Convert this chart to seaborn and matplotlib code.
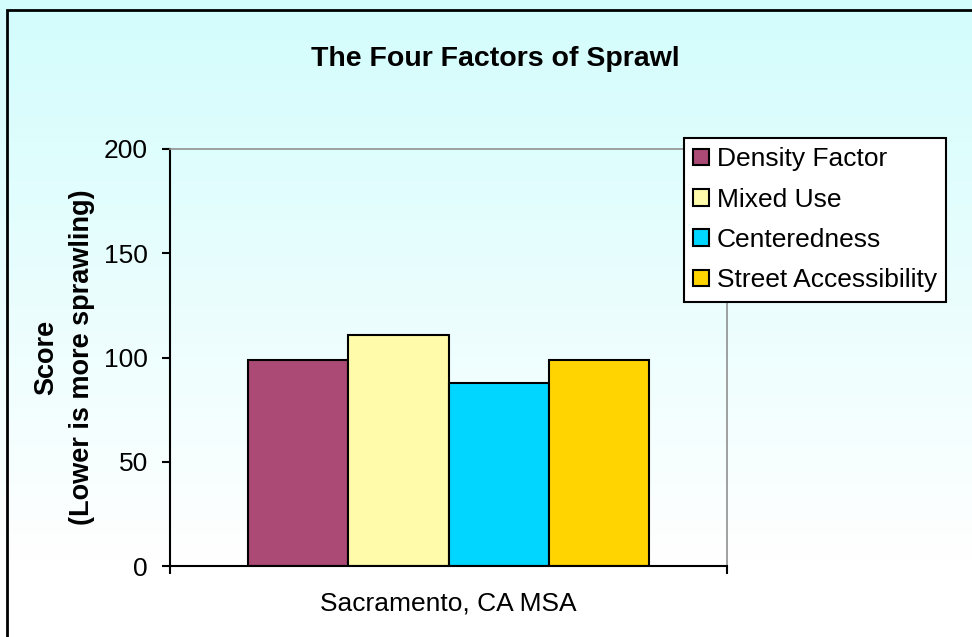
import numpy as np
import pandas as pd
import matplotlib
matplotlib.use("Agg")
import matplotlib.pyplot as plt
import seaborn as sns
from matplotlib.patches import Rectangle

# Chart data
location = "Sacramento, CA MSA"
factors = ["Density Factor", "Mixed Use", "Centeredness", "Street Accessibility"]
scores = [99, 111, 88, 99]
colors = ["#aa4a75", "#fffbaa", "#00d6ff", "#ffd400"]
yticks = [0, 50, 100, 150, 200]

df = pd.DataFrame({"location": [location] * len(factors), "factor": factors, "score": scores})

sns.set_style("white")
plt.rcParams["font.family"] = ["Liberation Sans", "DejaVu Sans"]
plt.rcParams["text.color"] = "black"
plt.rcParams["xtick.color"] = "black"
plt.rcParams["ytick.color"] = "black"

fig = plt.figure(figsize=(9.72, 6.37), dpi=100)

# background gradient (light cyan at top fading to white)
bg = fig.add_axes([0, 0, 1, 1], zorder=0)
rows = np.linspace(0, 1, 300)[:, None]
top = np.array([0.83, 0.99, 0.99])
frac = np.clip((rows * 637 - 10) / 550, 0, 1)
img = top + (1 - top) * frac[..., None]
img = np.repeat(img, 2, axis=1)
bg.imshow(img, aspect="auto", extent=[0, 1, 1, 0])
bg.set_xlim(0, 1)
bg.set_ylim(1, 0)
bg.axis("off")
# outer frame (only left and top edges are inside the image)
bg.add_patch(Rectangle((7 / 972, -0.5), 1.2, 1.5 - 10 / 637, fill=False, edgecolor="black",
                       linewidth=2, transform=bg.transAxes, clip_on=False))

ax = fig.add_axes([170 / 972, 71 / 637, 557 / 972, 417 / 637], zorder=1)
ax.set_facecolor("none")

sns.barplot(data=df, x="location", y="score", hue="factor", palette=colors, saturation=1,
            edgecolor="black", linewidth=1.5, width=0.72, ax=ax)

ax.set_ylim(0, 200)
ax.set_yticks(yticks)
ax.set_xlim(-0.5, 0.5)
ax.set_xlabel("")
ax.set_ylabel("")

for side in ["left", "bottom"]:
    ax.spines[side].set_visible(True)
    ax.spines[side].set_color("black")
    ax.spines[side].set_linewidth(1.5)
for side in ["top", "right"]:
    ax.spines[side].set_visible(True)
    ax.spines[side].set_color("#909090")
    ax.spines[side].set_linewidth(1.2)

ax.tick_params(axis="y", direction="out", length=6, width=1.5, color="black",
               left=True, labelsize=19, pad=10)
ax.tick_params(axis="x", which="major", length=0, labelsize=19, pad=18)
ax.set_xticks([-0.5, 0.5], minor=True)
ax.tick_params(axis="x", which="minor", direction="out", length=6, width=1.5,
               color="black", bottom=True)

handles, labels = ax.get_legend_handles_labels()
ax.legend(handles, labels, loc="upper left", bbox_to_anchor=(684 / 972, 1 - 138 / 637),
          bbox_transform=fig.transFigure, fontsize=19, frameon=True, fancybox=False,
          edgecolor="black", framealpha=1, handlelength=0.6, handleheight=0.6,
          handletextpad=0.3, borderpad=0.35, labelspacing=0.62, borderaxespad=0)
ax.get_legend().get_frame().set_linewidth(1.5)

fig.text(495 / 972, 1 - 59 / 637, "The Four Factors of Sprawl", ha="center", va="center",
         fontsize=20.5, fontweight="bold")
fig.text(64 / 972, 1 - 357 / 637, "Score\n(Lower is more sprawling)", ha="center", va="center",
         rotation=90, fontsize=19.5, fontweight="bold", linespacing=1.5, multialignment="center")

fig.savefig("out.png", dpi=100)
